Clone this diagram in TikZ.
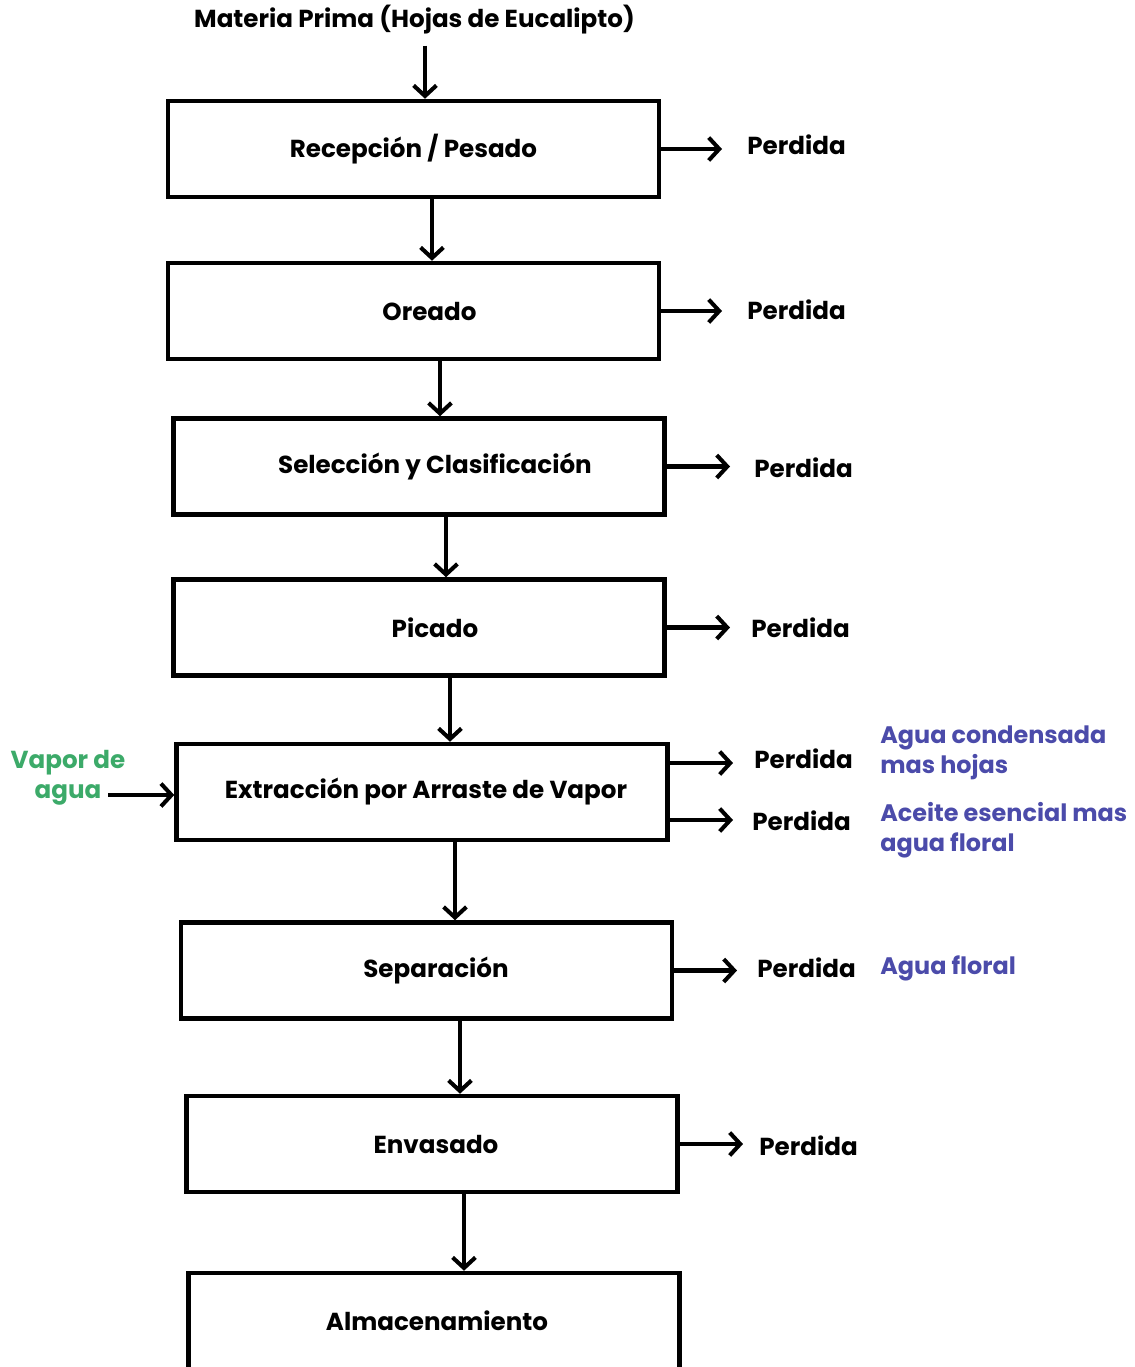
\documentclass[tikz,border=0pt]{standalone}
\usepackage{fontspec}
\setmainfont{Poppins}
\usetikzlibrary{arrows.meta}

\definecolor{lossblue}{RGB}{75,75,170}
\definecolor{steamgreen}{RGB}{60,170,105}

\tikzset{
  proc/.style={draw, line width=2.6pt, minimum width=9.82cm, minimum height=1.92cm, font=\fontsize{14}{17}\selectfont\bfseries},
  push/.style={execute at begin node={\hspace*{#1}}},
  flow/.style={line width=2.5pt, -{Straight Barb[length=6pt, width=13pt, line width=2.3pt]}},
  loss/.style={inner sep=0pt, anchor=west, font=\fontsize{14}{17}\selectfont\bfseries},
  note/.style={inner sep=0pt, anchor=west, align=left, text=lossblue, font=\fontsize{13.6}{17}\selectfont\bfseries},
}

\begin{document}
\begin{tikzpicture}[x=0.02cm, y=-0.02cm]
\useasboundingbox (0,0) rectangle (1135,1367);

% process steps
\node[font=\fontsize{14}{17}\selectfont\bfseries] (mp) at (414.5,20) {Materia Prima (Hojas de Eucalipto)};
\node[proc] (rec) at (413.5,149) {Recepción / Pesado};
\node[proc, push=0.64cm] (ore) at (413.5,311) {Oreado};
\node[proc, push=0.64cm] (sel) at (419,466.5) {Selección y Clasificación};
\node[proc, push=0.64cm] (pic) at (419,627.5) {Picado};
\node[proc, push=0.16cm] (ext) at (422,792) {Extracción por Arraste de Vapor};
\node[proc, push=0.38cm] (sep) at (426.5,970.5) {Separación};
\node[proc, push=0.16cm] (env) at (432,1144) {Envasado};
\node[proc, push=0.12cm] (alm) at (434,1321) {Almacenamiento};

% main line
\draw[flow] ([xshift=0.21cm,yshift=-0.1cm]mp.south) -- ([xshift=0.21cm]mp.south |- rec.north);
\draw[flow] ([xshift=0.37cm]rec.south) -- ([xshift=0.37cm]rec.south |- ore.north);
\draw[flow] ([xshift=0.53cm]ore.south) -- ([xshift=0.53cm]ore.south |- sel.north);
\draw[flow] ([xshift=0.54cm]sel.south) -- ([xshift=0.54cm]sel.south |- pic.north);
\draw[flow] ([xshift=0.62cm]pic.south) -- ([xshift=0.62cm]pic.south |- ext.north);
\draw[flow] ([xshift=0.66cm]ext.south) -- ([xshift=0.66cm]ext.south |- sep.north);
\draw[flow] ([xshift=0.67cm]sep.south) -- ([xshift=0.67cm]sep.south |- env.north);
\draw[flow] ([xshift=0.64cm]env.south) -- ([xshift=0.64cm]env.south |- alm.north);

% losses
\node[loss] (p1) at (747,145) {Perdida};
\node[loss] (p2) at (747,310) {Perdida};
\node[loss] (p3) at (754,468) {Perdida};
\node[loss] (p4) at (751,628) {Perdida};
\node[loss] (p5a) at (754,759) {Perdida};
\node[loss] (p5b) at (752,821) {Perdida};
\node[loss] (p6) at (757,968) {Perdida};
\node[loss] (p7) at (759,1146) {Perdida};

\coordinate (e5a) at ([yshift=0.58cm]ext.east);
\coordinate (e5b) at ([yshift=-0.56cm]ext.east);

\draw[flow] (rec.east) -- ([xshift=-0.5cm]p1.west |- rec.east);
\draw[flow] (ore.east) -- ([xshift=-0.5cm]p2.west |- ore.east);
\draw[flow] (sel.east) -- ([xshift=-0.48cm]p3.west |- sel.east);
\draw[flow] (pic.east) -- ([xshift=-0.42cm]p4.west |- pic.east);
\draw[flow] (e5a) -- ([xshift=-0.42cm]p5a.west |- e5a);
\draw[flow] (e5b) -- ([xshift=-0.38cm]p5b.west |- e5b);
\draw[flow] (sep.east) -- ([xshift=-0.4cm]p6.west |- sep.east);
\draw[flow] (env.east) -- ([xshift=-0.32cm]p7.west |- env.east);

\node[note] (n5a) at (880,753) {Agua condensada\\mas hojas};
\node[note] (n5b) at (880,830) {Aceite esencial mas\\agua floral};
\node[note] (n6) at (880,968) {Agua floral};

% steam input
\node[align=center, text=steamgreen, font=\fontsize{14}{17}\selectfont\bfseries] (va) at (68,778) {Vapor de\\agua};
\coordinate (vin) at (108,795);
\draw[flow] (vin) -- (vin -| ext.west);

\end{tikzpicture}
\end{document}
